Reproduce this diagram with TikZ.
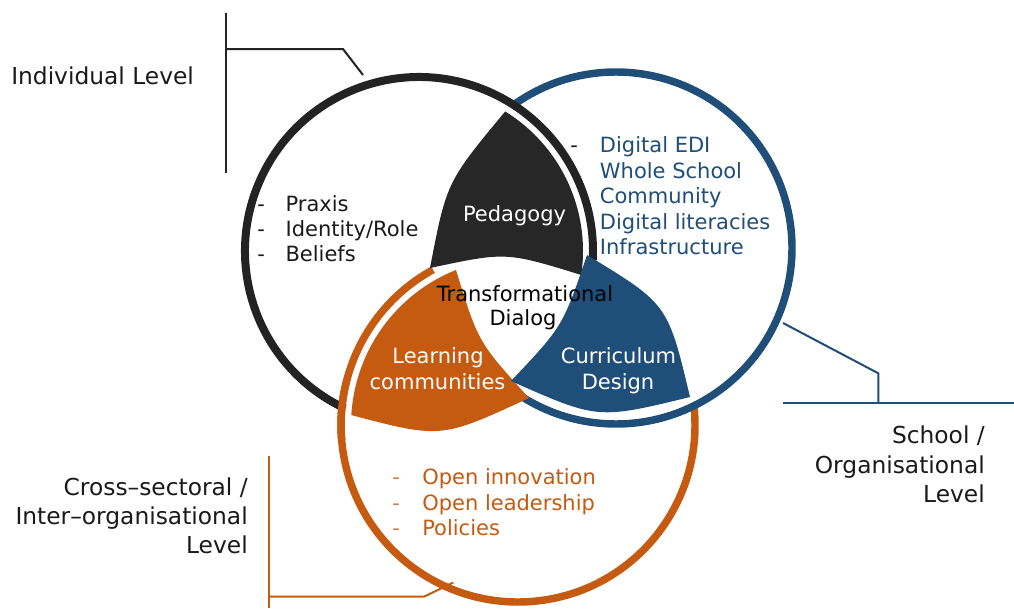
\documentclass[tikz,border=0pt]{standalone}
\usepackage{fontspec}
\setmainfont{DejaVu Sans}
\usetikzlibrary{calc}
\definecolor{kring}{HTML}{232323}
\definecolor{kfill}{HTML}{272727}
\definecolor{vblue}{HTML}{1F4E79}
\definecolor{vorange}{HTML}{C55A11}
\definecolor{txtk}{HTML}{1A1A1A}
\begin{document}
\begin{tikzpicture}[x=0.75pt,y=-0.75pt,
  innertxt/.style={font=\fontsize{15.75pt}{19pt}\selectfont,inner sep=0pt},
  outertxt/.style={font=\fontsize{17.5pt}{21pt}\selectfont,inner sep=0pt,text=txtk},
  lbl/.style={innertxt,text=white,anchor=base},
  itemk/.style={innertxt,text=txtk,anchor=base west},
  itemb/.style={innertxt,text=vblue,anchor=base west},
  itemo/.style={innertxt,text=vorange,anchor=base west},
  brk/.style={line width=1.5pt},
  ringk/.style={kring,line width=6pt},
  ringb/.style={vblue,line width=5.6pt},
  ringo/.style={vorange,line width=5.6pt}]

\fill[white] (0,0) rectangle (1014,608);
\useasboundingbox (0,0) rectangle (1014,608);

% circle centres
\coordinate (cK) at (419,251);
\coordinate (cB) at (616,248);
\coordinate (cO) at (518,425);

% lens corners
\coordinate (pT)  at ($(cK)+(-58.3:164)$);
\coordinate (pBL) at (430,268);
\coordinate (lT)  at ($(cO)+(248.2:167)$);
\coordinate (lR)  at (529,398);
\coordinate (qT)  at (587,255);
\coordinate (qL)  at (511,381);
\coordinate (qR)  at (690,397);

% lists
\node[itemk] (k1d) at (257,211.5) {-};
\node[itemk] (k1)  at (285.3,211.5) {Praxis};
\node[itemk] (k2d) at (257,236.5) {-};
\node[itemk] (k2)  at (285.3,236.5) {Identity/Role};
\node[itemk] (k3d) at (257,261.5) {-};
\node[itemk] (k3)  at (285.3,261.5) {Beliefs};

\node[itemk] (b1d) at (570,152.5) {-};
\node[itemb] (b1)  at (599.7,152.5) {Digital EDI};
\node[itemb] (b2)  at (599.7,178) {Whole School};
\node[itemb] (b3)  at (599.7,203.5) {Community};
\node[itemb] (b4)  at (599.7,229) {Digital literacies};
\node[itemb] (b5)  at (599.7,254.5) {Infrastructure};

\node[itemo,text=vorange!80] (o1d) at (392,484) {-};
\node[itemo] (o1)  at (422,484) {Open innovation};
\node[itemo,text=vorange!80] (o2d) at (392,510) {-};
\node[itemo] (o2)  at (422,510) {Open leadership};
\node[itemo,text=vorange!80] (o3d) at (392,535.5) {-};
\node[itemo] (o3)  at (422,535.5) {Policies};

% rings
\draw[ringo] (cO) ++(354.2:177) arc[start angle=354.2,end angle=601.3,radius=177];
\draw[ringb] (cB) ++(234.8:176) arc[start angle=234.8,end angle=483.3,radius=176];
\draw[ringk] (cK) ++(115.2:174) arc[start angle=115.2,end angle=363,radius=174];
\draw[ringo] (cO) ++(175:177) arc[start angle=175,end angle=195,radius=177];

% lens fills
\fill[kfill] (pT) arc[start angle=-58.3,end angle=8.4,radius=164]
  .. controls (506,251.8) .. (pBL) .. controls (446.5,182.2) .. (pT) -- cycle;
\fill[vorange] (lT) arc[start angle=248.2,end angle=183.4,radius=167]
  .. controls (441.2,438.7) .. (lR) .. controls (478.2,342.2) .. (lT) -- cycle;
\fill[vblue] (qT) .. controls (562.7,326.4) .. (qL)
  .. controls (597.7,419.5) .. (qR) .. controls (667.8,304) .. (qT) -- cycle;

% lens labels
\node[lbl] (ped) at (514.5,221.7) {Pedagogy};
\node[innertxt,text=black,anchor=base] (tr1) at (525,301.7) {Transformational};
\node[innertxt,text=black,anchor=base] (tr2) at (523,325) {Dialog};
\node[lbl] (lc1) at (438,363.3) {Learning};
\node[lbl] (lc2) at (437.5,389.3) {communities};
\node[lbl] (cd1) at (618.5,363.3) {Curriculum};
\node[lbl] (cd2) at (618,389.3) {Design};

% outer labels
\node[outertxt,anchor=base west] (indiv) at (11,84) {Individual Level};
\node[outertxt,anchor=base east] (cs1) at (248,495) {Cross–sectoral /};
\node[outertxt,anchor=base east] (cs2) at (248,524) {Inter–organisational};
\node[outertxt,anchor=base east] (cs3) at (248,553.3) {Level};
\node[outertxt,anchor=base east] (so1) at (985,443.5) {School /};
\node[outertxt,anchor=base east] (so2) at (985,473.3) {Organisational};
\node[outertxt,anchor=base east] (so3) at (985,502.7) {Level};

% brackets
\coordinate (ib1) at (226,13);
\coordinate (ib2) at (226,173);
\coordinate (ib3) at (226,49);
\coordinate (ib4) at (343,49);
\coordinate (ib5) at (363,75);
\draw[brk,kring] (ib1) -- (ib2);
\draw[brk,kring] (ib3) -- (ib4) -- (ib5);

\coordinate (sb1) at (783,323);
\coordinate (sb2) at (878.3,373.3);
\coordinate (sb3) at (878.3,402.7);
\coordinate (sb4) at (782.7,402.7);
\coordinate (sb5) at (1014,402.7);
\draw[brk,vblue] (sb1) -- (sb2) -- (sb3);
\draw[brk,vblue] (sb4) -- (sb5);

\coordinate (cb1) at (269.3,456);
\coordinate (cb2) at (269.3,608);
\coordinate (cb3) at (269.3,596.7);
\coordinate (cb4) at (424,596.7);
\coordinate (cb5) at (453.3,582.5);
\draw[brk,vorange] (cb1) -- (cb2);
\draw[brk,vorange] (cb3) -- (cb4) -- (cb5);
\end{tikzpicture}
\end{document}
